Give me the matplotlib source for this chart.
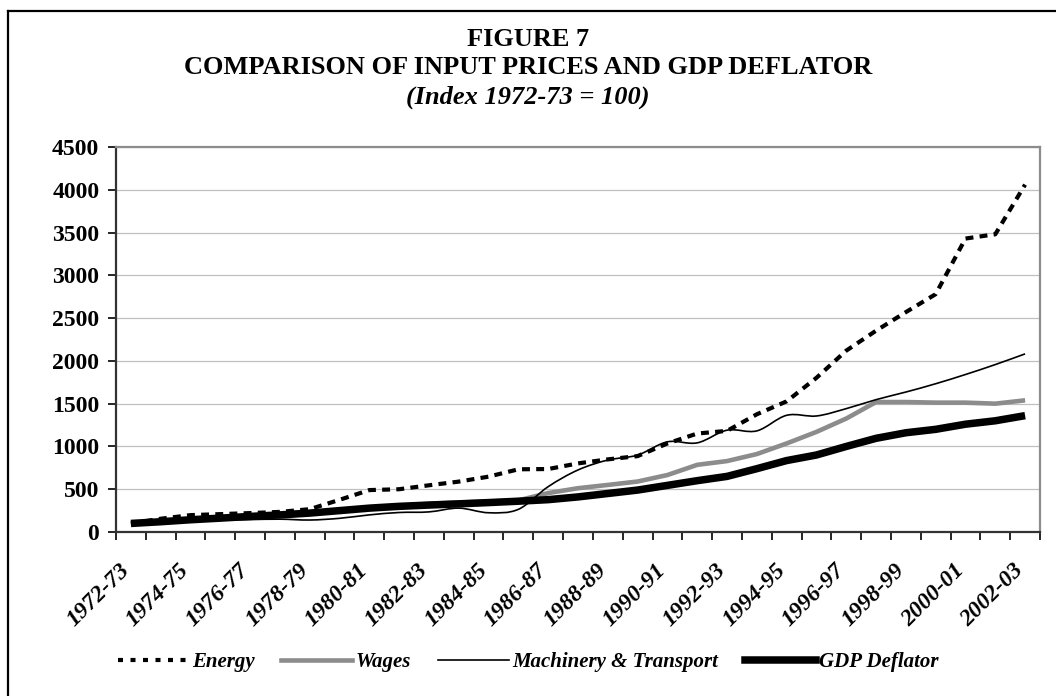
import matplotlib
matplotlib.use("Agg")
import matplotlib.pyplot as plt
from matplotlib.path import Path
from matplotlib.patches import PathPatch
from matplotlib.lines import Line2D
import matplotlib.transforms as mtransforms

# financial years, 1972-73 to 2002-03
years = ["1972-73", "1973-74", "1974-75", "1975-76", "1976-77", "1977-78",
         "1978-79", "1979-80", "1980-81", "1981-82", "1982-83", "1983-84",
         "1984-85", "1985-86", "1986-87", "1987-88", "1988-89", "1989-90",
         "1990-91", "1991-92", "1992-93", "1993-94", "1994-95", "1995-96",
         "1996-97", "1997-98", "1998-99", "1999-00", "2000-01", "2001-02",
         "2002-03"]

energy = [100, 155, 197, 209, 221, 235, 267, 376, 490, 500, 546, 589, 647,
          733, 736, 802, 849, 887, 1035, 1151, 1182, 1376, 1527, 1802, 2120,
          2353, 2570, 2780, 3430, 3480, 4060]
wages = [100, 118, 140, 160, 180, 198, 218, 245, 278, 305, 330, 345, 355,
         370, 455, 512, 550, 590, 666, 785, 829, 911, 1035, 1170, 1326,
         1519, 1519, 1512, 1512, 1500, 1539]
machinery = [100, 112, 125, 138, 145, 150, 140, 160, 200, 228, 235, 279, 225,
             265, 530, 725, 841, 899, 1054, 1042, 1190, 1182, 1364, 1356,
             1442, 1547, 1636, 1733, 1841, 1957, 2082]
gdp = [100, 120, 143, 162, 182, 200, 221, 250, 279, 300, 315, 329, 344, 360,
       378, 410, 450, 490, 545, 600, 650, 740, 835, 900, 1000, 1095, 1160,
       1200, 1260, 1300, 1360]

plt.rcParams["font.family"] = ["Liberation Serif", "DejaVu Serif"]
plt.rcParams["font.weight"] = "bold"


def smooth_path(xs, ys):
	# excel style smoothed line: cubic bezier through every point
	n = len(xs)
	verts = [(xs[0], ys[0])]
	codes = [Path.MOVETO]
	for i in range(n - 1):
		p0 = max(i - 1, 0)
		p3 = min(i + 2, n - 1)
		c1 = (xs[i] + (xs[i + 1] - xs[p0]) / 6, ys[i] + (ys[i + 1] - ys[p0]) / 6)
		c2 = (xs[i + 1] - (xs[p3] - xs[i]) / 6, ys[i + 1] - (ys[p3] - ys[i]) / 6)
		verts += [c1, c2, (xs[i + 1], ys[i + 1])]
		codes += [Path.CURVE4] * 3
	return Path(verts, codes)


fig = plt.figure(figsize=(10.56, 6.96), dpi=100)
ax = fig.add_axes([116 / 1056, 1 - 532 / 696, 924 / 1056, 385 / 696])

x = list(range(len(years)))
ax.plot(x, energy, color="black", lw=3.0, linestyle=(0, (1.9, 1.5)),
        solid_capstyle="butt", dash_capstyle="butt", zorder=3)
ax.plot(x, wages, color="#8c8c8c", lw=3.3, solid_capstyle="butt", zorder=4)
ax.add_patch(PathPatch(smooth_path(x, machinery), fill=False, edgecolor="black",
                       lw=1.2, zorder=5))
ax.plot(x, gdp, color="black", lw=5.4, solid_capstyle="butt", zorder=6)

ax.set_xlim(-0.5, len(years) - 0.5)
ax.set_ylim(0, 4500)
ax.set_yticks(range(0, 4501, 500))
ax.yaxis.grid(True, color="#c0c0c0", lw=0.9)
ax.set_axisbelow(True)
ax.tick_params(axis="y", direction="out", length=6, width=1.2, labelsize=17, pad=6)

# tick marks between categories, labels on every second category
ax.set_xticks([i - 0.5 for i in range(len(years) + 1)])
ax.set_xticklabels([])
ax.tick_params(axis="x", which="major", direction="out", length=6, width=1.2)
ax.set_xticks(x[::2], minor=True)
ax.set_xticklabels(years[::2], minor=True, rotation=45, ha="right",
                   rotation_mode="anchor", fontsize=17, fontstyle="italic")
ax.tick_params(axis="x", which="minor", length=0, pad=20)
offset = mtransforms.ScaledTranslation(-12 / 100, 0, fig.dpi_scale_trans)
for lab in ax.xaxis.get_minorticklabels():
	lab.set_transform(lab.get_transform() + offset)

for side in ["left", "bottom"]:
	ax.spines[side].set_color("#333333")
	ax.spines[side].set_linewidth(1.6)
for side in ["top", "right"]:
	ax.spines[side].set_color("#8c8c8c")
	ax.spines[side].set_linewidth(1.6)

fig.text(0.5, 1 - 39 / 696, "FIGURE 7", ha="center", va="center", fontsize=19)
fig.text(0.5, 1 - 68 / 696, "COMPARISON OF INPUT PRICES AND GDP DEFLATOR",
         ha="center", va="center", fontsize=19)
fig.text(0.5, 1 - 97 / 696, "(Index 1972-73 = 100)", ha="center", va="center",
         fontsize=19, fontstyle="italic")

handles = [
	Line2D([], [], color="black", lw=3.0, linestyle=(0, (1.2, 1.8))),
	Line2D([], [], color="#8c8c8c", lw=3.3),
	Line2D([], [], color="black", lw=1.2),
	Line2D([], [], color="black", lw=5.4),
]
labels = ["Energy", "Wages", "Machinery & Transport", "GDP Deflator"]
fig.legend(handles, labels, loc="center", bbox_to_anchor=(0.5, 1 - 662 / 696),
           ncol=4, frameon=False, handlelength=3.4, handletextpad=0.15,
           columnspacing=1.3, prop={"size": 15, "style": "italic", "weight": "bold"})

# outer frame
fig.add_artist(Line2D([8 / 1056, 8 / 1056], [0, 1 - 11 / 696],
                      color="black", lw=1.6, transform=fig.transFigure))
fig.add_artist(Line2D([8 / 1056, 1], [1 - 11 / 696, 1 - 11 / 696],
                      color="black", lw=1.6, transform=fig.transFigure))

fig.savefig("out.png", dpi=100)
